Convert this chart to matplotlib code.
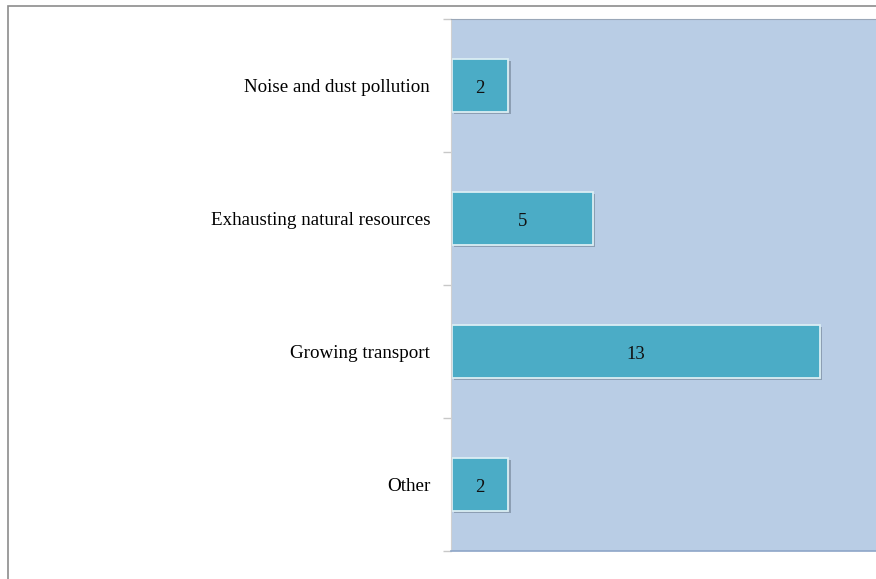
import matplotlib.pyplot as plt
import matplotlib.patheffects as pe
from matplotlib.patches import Rectangle

categories = ["Noise and dust pollution", "Exhausting natural resources",
              "Growing transport", "Other"]
counts = [2, 5, 13, 2]

plt.rcParams["font.family"] = ["Liberation Serif", "DejaVu Serif"]

fig = plt.figure(figsize=(8.76, 5.79), dpi=100)
W, H = 876, 579

# thin page frame, running off the right and bottom edges
fig.patches.append(Rectangle((8 / W, -0.1), 1.2, (H - 6) / H + 0.1,
                             transform=fig.transFigure, fill=False,
                             edgecolor="#8c8c8c", linewidth=1.2))

ax = fig.add_axes([451 / W, 1 - 551 / H, (W - 451) / W + 0.01, (551 - 19) / H])
ax.set_facecolor("#b9cde5")

y = list(range(len(categories)))
bars = ax.barh(y, counts, height=0.4, left=0.03, color="#4bacc6",
               edgecolor="#dbeef4", linewidth=1.3)
for b in bars:
    b.set_path_effects([pe.SimplePatchShadow(offset=(1.5, -1.5), shadow_rgbFace="#6f7f92",
                                             alpha=0.6), pe.Normal()])

for yi, c in zip(y, counts):
    ax.text(c / 2 + 0.03, yi + 0.02, str(c), ha="center", va="center",
            fontsize=13.5, color="#111111")

ax.set_xlim(0, 15.33)
ax.set_ylim(3.5, -0.5)
ax.set_yticks(y)
ax.set_yticklabels(categories, fontsize=13.7)
ax.tick_params(axis="y", length=0, pad=15)
ax.set_xticks([])

# separator ticks between categories
ax.set_yticks([-0.5, 0.5, 1.5, 2.5, 3.5], minor=True)
ax.tick_params(axis="y", which="minor", length=6, color="#c8c8c8", width=1)

ax.spines["left"].set_color("#d0d0d0")
ax.spines["top"].set_color("#9aa7b8")
ax.spines["bottom"].set_color("#8ea6c8")
ax.spines["bottom"].set_linewidth(1.2)
ax.spines["right"].set_visible(False)

fig.savefig("out.png", dpi=100)
